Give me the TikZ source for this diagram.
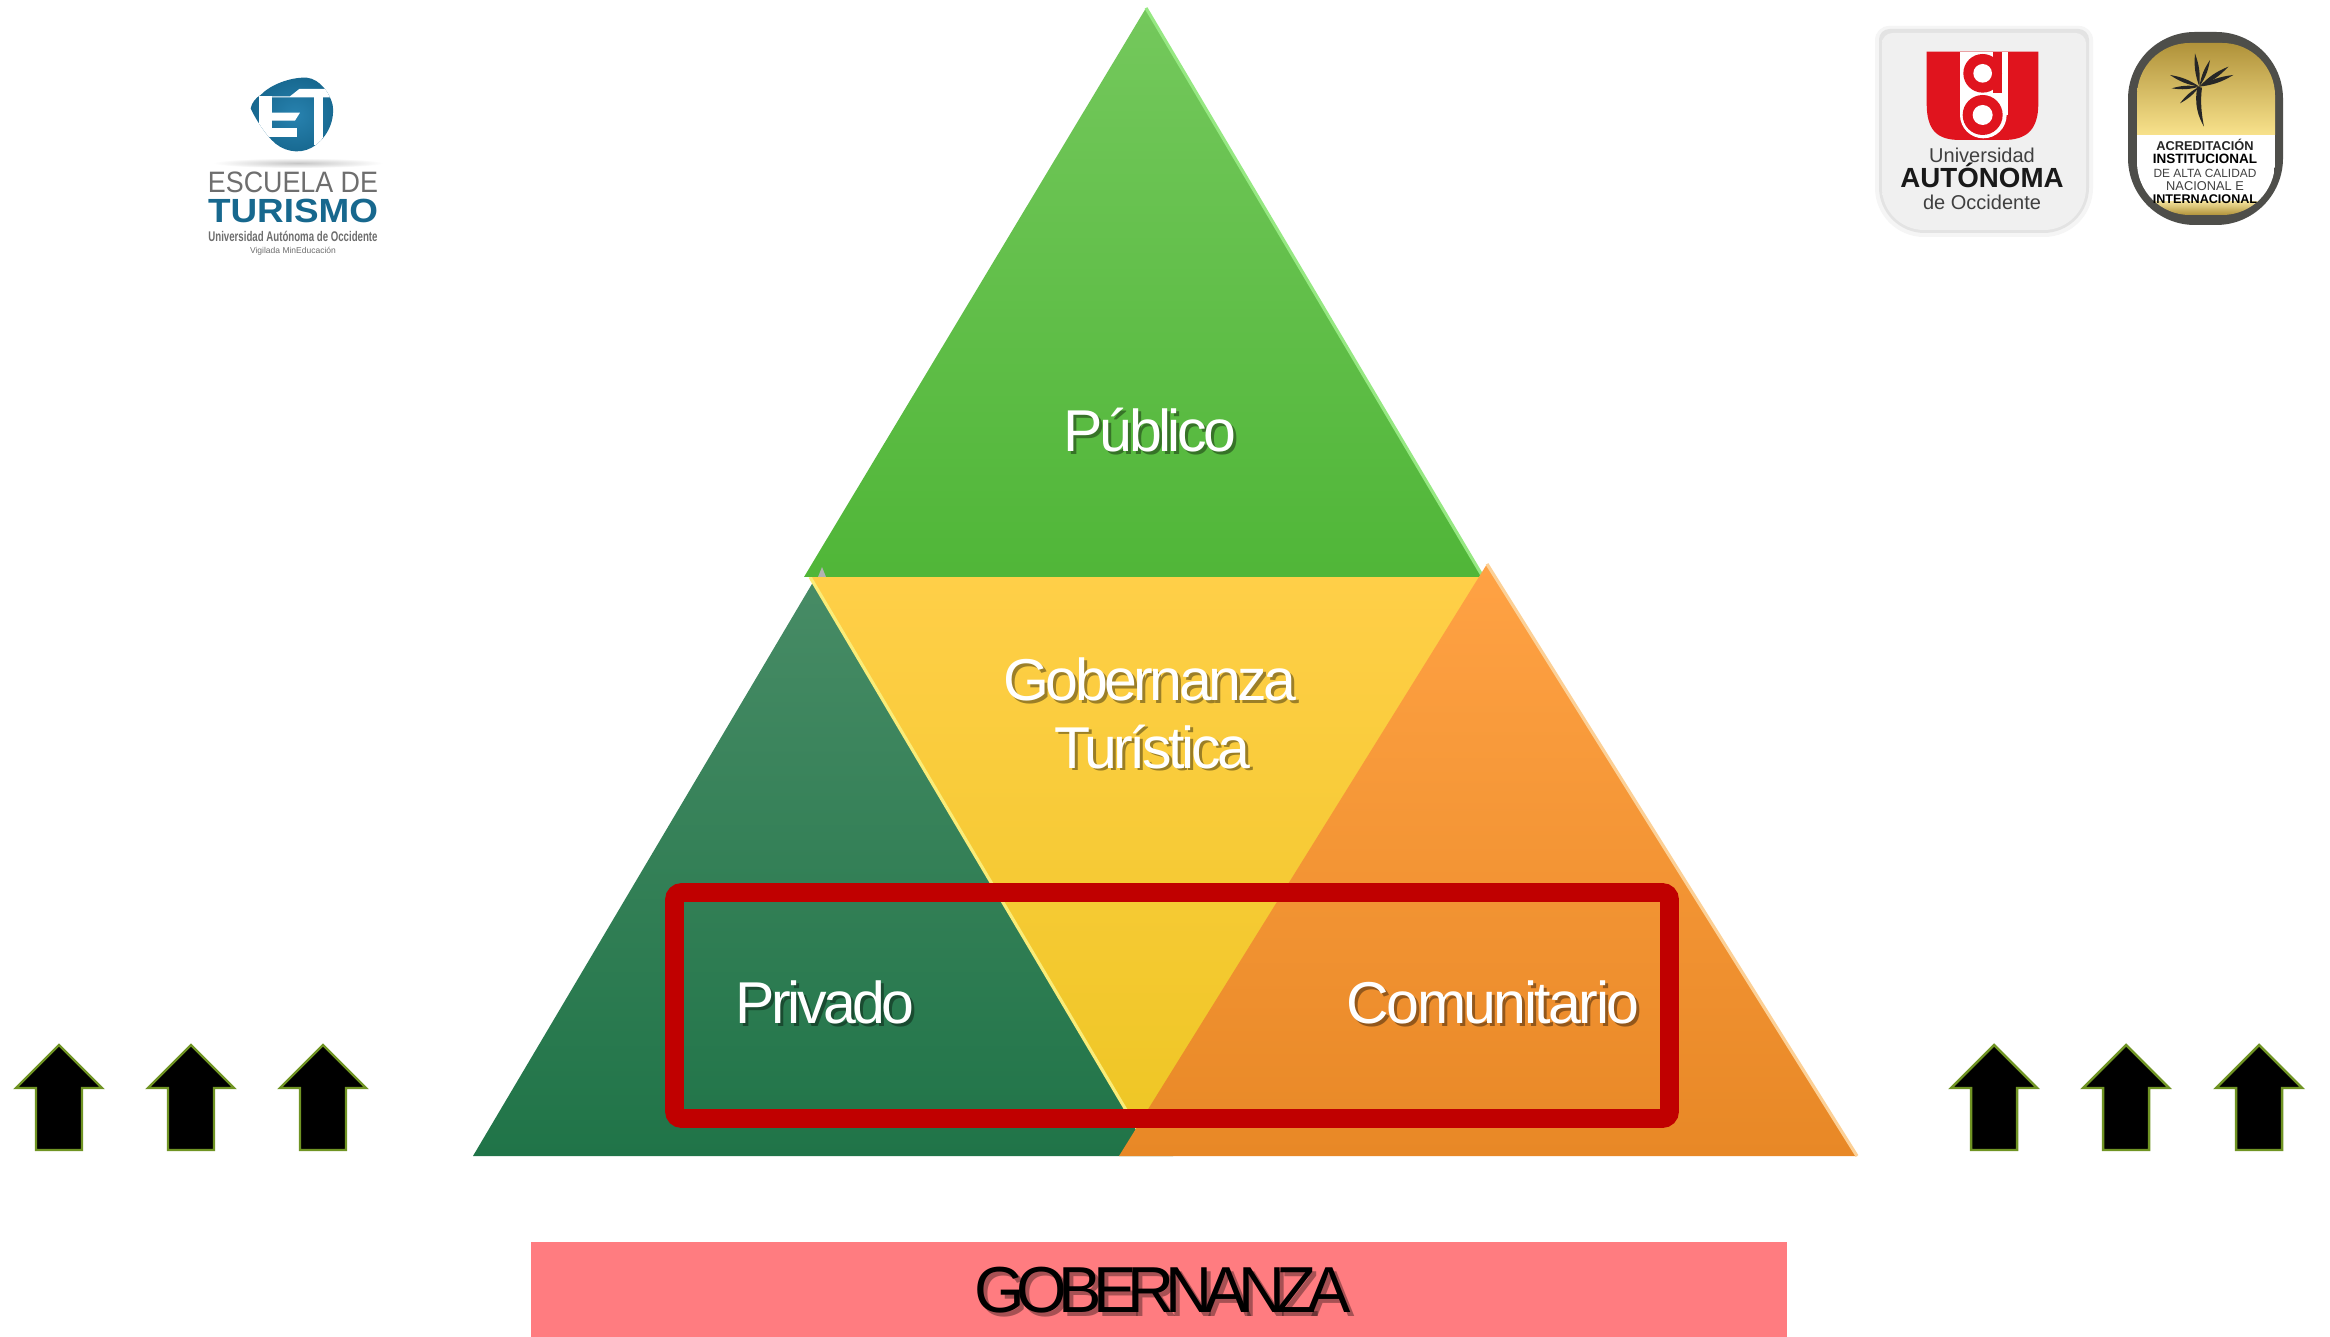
\documentclass[tikz,border=0pt]{standalone}
\usepackage{fontspec}
\setmainfont{Liberation Sans}
\newfontfamily\tightA[LetterSpace=-6]{Liberation Sans}
\newfontfamily\tightB[LetterSpace=-13.5]{Liberation Sans}
\newfontfamily\tightC[LetterSpace=-4.3]{Liberation Sans}
\newdimen\fsz
\newcommand\fs[1]{\fsz=0.2845pt \fsz=#1\fsz \fontsize{\fsz}{1.2\fsz}\selectfont}
\definecolor{etblue}{HTML}{17688E}
\definecolor{etgray}{HTML}{6E6E6E}
\definecolor{etlight}{HTML}{2882AF}
\definecolor{etdark}{HTML}{126086}
\definecolor{uaored}{HTML}{E0141E}
\definecolor{frameRed}{HTML}{C00000}
\definecolor{sealdark}{HTML}{4E4E4A}
\definecolor{arrowEdge}{RGB}{112,148,36}
\definecolor{dgA}{RGB}{72,140,102}
\definecolor{dgB}{RGB}{34,122,78}
\definecolor{dgC}{RGB}{32,116,72}
\definecolor{yeA}{RGB}{255,207,72}
\definecolor{yeB}{RGB}{254,212,50}
\definecolor{yeC}{RGB}{238,198,36}
\definecolor{yeEdge}{RGB}{250,236,120}
\definecolor{lgA}{RGB}{116,200,92}
\definecolor{lgB}{RGB}{80,182,56}
\definecolor{lgEdge}{RGB}{150,232,130}
\definecolor{orA}{RGB}{255,162,68}
\definecolor{orB}{RGB}{255,156,52}
\definecolor{orC}{RGB}{232,136,38}
\definecolor{orEdge}{RGB}{252,208,150}
\definecolor{barPink}{RGB}{255,124,128}
\definecolor{goldDark}{RGB}{176,146,58}
\definecolor{goldLight}{RGB}{248,226,140}
\definecolor{goldPale}{RGB}{240,222,150}
\tikzset{
  lab/.style={anchor=base,inner sep=0pt,text=white,font=\tightA\fs{59}},
  labshadow/.style={anchor=base,inner sep=0pt,text=black,text opacity=.38,font=\tightA\fs{59}},
  txt/.style={anchor=base,inner sep=0pt},
  uparrow/.style={fill=black,draw=arrowEdge,line width=.7pt,line join=miter},
}
\begin{document}
\begin{tikzpicture}[x=0.01cm,y=-0.01cm]
\useasboundingbox (0,0) rectangle (2330,1337);
\fill[white] (0,0) rectangle (2330,1337);

% triangles
\shade[top color=dgA,middle color=dgB,bottom color=dgC]
  (822,567) -- (1173,1156) -- (473,1156) -- cycle;
\shade[top color=yeA,middle color=yeB,bottom color=yeC]
  (810,577) -- (1480,577) -- (1145,1142) -- cycle;
\draw[yeEdge,line width=.9pt] (810,577) -- (1145,1142);
\shade[top color=lgA,bottom color=lgB]
  (1146,8) -- (1483,577) -- (804,577) -- cycle;
\draw[lgEdge,line width=.9pt] (1146,8) -- (1483,577);
\fill[gray!60] (822,567) -- (826,577) -- (818,577) -- cycle;
\shade[top color=orA,middle color=orB,bottom color=orC]
  (1487,564) -- (1857,1156) -- (1119,1156) -- cycle;
\draw[orEdge,line width=.9pt] (1487,564) -- (1857,1156);

% labels
\node[labshadow] (publicoS) at (1153,455) {Público};
\node[lab] (publico) at (1150,452) {Público};
\node[labshadow] (gobS) at (1153,704) {Gobernanza};
\node[lab] (gob) at (1150,701) {Gobernanza};
\node[labshadow] (turS) at (1155,771) {Turística};
\node[lab] (tur) at (1152,768) {Turística};
\node[labshadow] (privS) at (828,1026) {Privado};
\node[lab] (priv) at (825,1023) {Privado};
\node[labshadow,font=\tightC\fs{59}] (comS) at (1496,1026) {Comunitario};
\node[lab,font=\tightC\fs{59}] (com) at (1493,1023) {Comunitario};

% red frame
\draw[frameRed,line width=5.3pt,rounded corners=2pt] (674.5,892.5) rectangle (1669.5,1118.5);

% bottom bar
\fill[barPink] (531,1242) rectangle (1787,1337);
\node[txt,text=black,text opacity=.35,font=\tightB\fs{65}] (barS) at (1167,1316) {GOBERNANZA};
\node[txt,text=black,font=\tightB\fs{65}] (bar) at (1163,1312) {GOBERNANZA};

% arrows
\foreach \x in {59,191,323,1994,2126,2259}
  \draw[uparrow,shift={(\x,0)}] (0,1045) -- (43,1088) -- (23,1088) -- (23,1150) -- (-23,1150) -- (-23,1088) -- (-43,1088) -- cycle;

% ET logo
\shade[inner color=gray!45,outer color=white] (298,163) ellipse (85 and 5);
\begin{scope}[shift={(240,65)},scale=0.3333]
  \begin{scope}
    \clip (32,130) .. controls (36,112) and (48,98) .. (62,90) .. controls (90,60) and (150,36) .. (200,38)
      .. controls (240,42) and (270,85) .. (278,120) .. controls (286,175) and (255,225) .. (215,248)
      .. controls (175,270) and (125,258) .. (95,225) .. controls (75,205) and (45,160) .. (32,130) -- cycle;
    \shade[inner color=etlight,outer color=etdark] (0,0) rectangle (330,300);
    \fill[white] (58,94) rectangle (95,217);
    \fill[white] (58,94) -- (150,94) -- (178,72) -- (300,72) -- (300,97) -- (58,97) -- cycle;
    \fill[white] (95,143) -- (180,143) -- (165,167) -- (95,167) -- cycle;
    \fill[white] (95,190) -- (172,190) -- (172,217) -- (95,217) -- cycle;
    \fill[white] (222,97) rectangle (250,240);
  \end{scope}
\end{scope}
\node[txt,text=etgray,xscale=.91,font=\fs{29.5}] (escuela) at (293,193) {ESCUELA DE};
\node[txt,text=etblue,xscale=1.1,font=\bfseries\fs{33.5}] (turismo) at (293,223) {TURISMO};
\node[txt,text=etgray,xscale=.69,font=\bfseries\fs{14}] (uao) at (293,242) {Universidad Autónoma de Occidente};
\node[txt,text=etgray,font=\fs{8.5}] (vig) at (293,254) {Vigilada MinEducación};

% university card
\fill[gray!8] [rounded corners=4pt] (1875,130) -- (1875,26) -- (2093,26) -- (2093,130) [rounded corners=14pt] -- (2093,237) -- (1875,237) -- cycle;
\fill[gray!22] [rounded corners=3pt] (1879,130) -- (1879,29) -- (2089,29) -- (2089,130) [rounded corners=13pt] -- (2089,233) -- (1879,233) -- cycle;
\shade[left color=gray!12,middle color=white,right color=gray!12] [rounded corners=3pt] (1882,130) -- (1882,33) -- (2086,33) -- (2086,130) [rounded corners=12pt] -- (2086,230) -- (1882,230) -- cycle;
\begin{scope}[shift={(1870,20)},scale=0.3333]
  \fill[uaored] (170,95) -- (505,95) -- (505,250) .. controls (505,330) and (470,360) .. (400,360) -- (270,360) .. controls (200,360) and (170,330) .. (170,250) -- cycle;
  \fill[white] (270,95) rectangle (415,285);
  \fill[white] (340,285) circle (70);
  \fill[uaored] (338,285) circle (60);
  \fill[white] (338,285) circle (30);
  \fill[uaored] (338,160) circle (58);
  \fill[uaored] (368,95) rectangle (395,218);
  \fill[white] (338,160) circle (28);
\end{scope}
\node[txt,text=black!75,font=\fs{20}] (univ) at (1982,163) {Universidad};
\node[txt,text=black!90,font=\bfseries\fs{27.7}] (auto) at (1982,188) {AUTÓNOMA};
\node[txt,text=black!75,font=\fs{20}] (occ) at (1982,210) {de Occidente};

% seal
\fill[sealdark,rounded corners=19pt] (2128,32) rectangle (2283,225);
\begin{scope}
  \clip[rounded corners=15pt] (2137,43) rectangle (2275,215);
  \shade[top color=goldDark,bottom color=goldLight] (2137,43) rectangle (2275,135);
  \fill[white] (2137,135) rectangle (2275,202);
  \shade[top color=goldPale,bottom color=goldDark] (2137,202) rectangle (2275,215);
\end{scope}
\begin{scope}[shift={(2120,25)},scale=0.3333]
  \foreach \tx/\ty in {225/85,150/150,155/190,180/235,270/105,325/125,340/150}
    \fill[black!85] (238,185) to[bend left=12] (\tx,\ty) to[bend left=12] (238,185) -- cycle;
  \fill[black!85] (232,185) .. controls (222,240) and (235,275) .. (252,305) .. controls (245,270) and (240,230) .. (246,188) -- cycle;
\end{scope}
\node[txt,text=black!85,font=\bfseries\fs{12.8}] (s1) at (2205,151) {ACREDITACIÓN};
\node[txt,text=black,font=\bfseries\fs{13.5}] (s2) at (2205,164) {INSTITUCIONAL};
\node[txt,text=black!75,font=\fs{11.9}] (s3) at (2205,178) {DE ALTA CALIDAD};
\node[txt,text=black!75,font=\fs{12.8}] (s4) at (2205,191) {NACIONAL E};
\node[txt,text=black,font=\bfseries\fs{12.6}] (s5) at (2205,204) {INTERNACIONAL};
\end{tikzpicture}
\end{document}
